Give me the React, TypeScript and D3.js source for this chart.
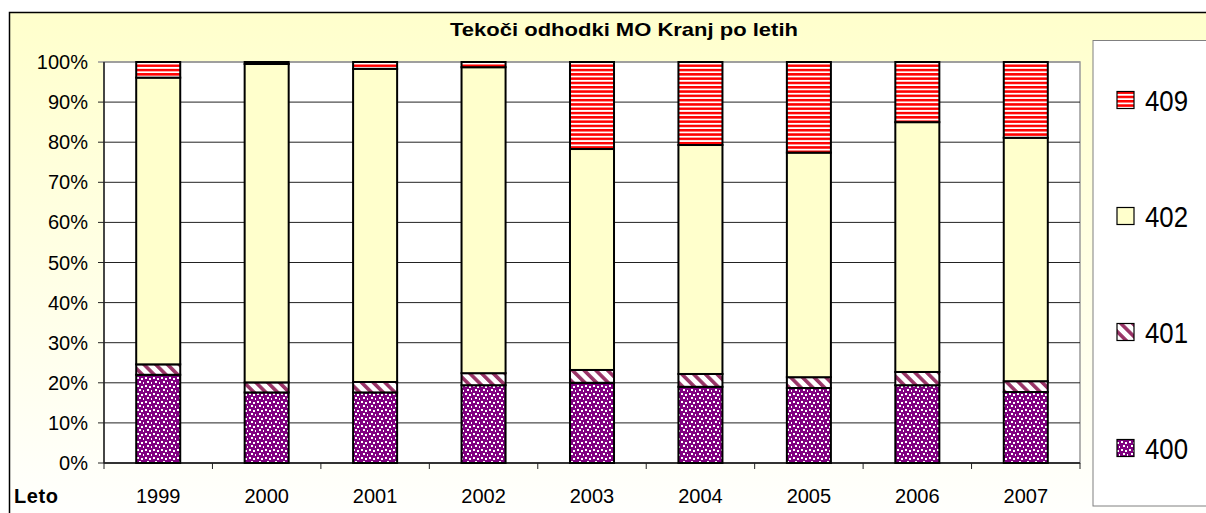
import React from "react";
import * as d3 from "d3";

// data (shares in %)
const years = ["1999", "2000", "2001", "2002", "2003", "2004", "2005", "2006", "2007"];
const keys = ["400", "401", "402", "409"];
const s400 = [22.0, 17.6, 17.6, 19.4, 20.0, 19.0, 18.7, 19.4, 17.7];
const s401 = [2.6, 2.5, 2.6, 3.0, 3.2, 3.2, 2.7, 3.3, 2.7];
const s402 = [71.5, 79.4, 78.1, 76.3, 55.1, 57.1, 56.0, 62.3, 60.7];
const s409 = [3.9, 0.5, 1.7, 1.3, 21.7, 20.7, 22.6, 15.0, 18.9];
const yTicks = [0, 0.1, 0.2, 0.3, 0.4, 0.5, 0.6, 0.7, 0.8, 0.9, 1];

const W = 1206;
const H = 513;
const PLOT = { left: 104, right: 1080, top: 62, bottom: 463 };
const FONT = "'Liberation Sans', Arial, sans-serif";

const fills: Record<string, string> = {
  "400": "url(#p400)",
  "401": "url(#p401)",
  "402": "#FFFFCC",
  "409": "url(#p409)",
};

export default function App() {
  const table = years.map((y, i) => ({
    year: y,
    "400": s400[i],
    "401": s401[i],
    "402": s402[i],
    "409": s409[i],
  }));
  const series = d3.stack<any>().keys(keys).offset(d3.stackOffsetExpand)(table);

  const pad = 0.594;
  const x = d3.scaleBand()
    .domain(years)
    .range([PLOT.left, PLOT.right])
    .paddingInner(pad)
    .paddingOuter(pad / 2);
  const y = d3.scaleLinear().domain([0, 1]).range([PLOT.bottom, PLOT.top]);

  const step = x.step();
  const bounds = d3.range(years.length + 1).map(i => PLOT.left + i * step);

  // legend, top to bottom
  const legendKeys = ["409", "402", "401", "400"];
  const legendY = d3.scalePoint().domain(legendKeys).range([100, 448]);

  return (
    <svg width={W} height={H} style={{ position: "absolute", left: 0, top: 0 }} fontFamily={FONT}>
      <defs>
        <linearGradient id="bg" x1="0" y1="0" x2="0" y2="1">
          <stop offset="0" stopColor="#FFFFCC" />
          <stop offset="1" stopColor="#FFFFFF" />
        </linearGradient>
        <pattern id="p400" patternUnits="userSpaceOnUse" width="8" height="8">
          <rect width="8" height="8" fill="#800080" />
          <rect x="1" y="1" width="2" height="2" fill="#fff" />
          <rect x="5" y="2" width="2" height="2" fill="#fff" />
          <rect x="3" y="5" width="2" height="2" fill="#fff" />
          <rect x="7" y="6" width="1.5" height="2" fill="#fff" />
        </pattern>
        <pattern id="p401" patternUnits="userSpaceOnUse" width="8.3" height="8.3" patternTransform="rotate(-45)">
          <rect width="8.3" height="8.3" fill="#fff" />
          <rect width="3.6" height="8.3" fill="#993366" />
        </pattern>
        <pattern id="p409" patternUnits="userSpaceOnUse" width="8" height="4.3">
          <rect width="8" height="4.3" fill="#fff" />
          <rect width="8" height="2.5" fill="#FF0000" />
        </pattern>
      </defs>

      {/* chart area */}
      <rect x={9.5} y={12.5} width={W + 10} height={H + 10} fill="url(#bg)" stroke="#000" strokeWidth={1.5} />

      <text x={624} y={36} textAnchor="middle" fontSize={19} fontWeight="bold" textLength={348} lengthAdjust="spacingAndGlyphs">
        Tekoči odhodki MO Kranj po letih
      </text>

      {/* plot area */}
      <rect x={PLOT.left} y={PLOT.top} width={PLOT.right - PLOT.left} height={PLOT.bottom - PLOT.top} fill="#fff" stroke="#999" strokeWidth={1.5} />

      {yTicks.map(t => (
        <g key={t}>
          <line x1={PLOT.left - 6} x2={PLOT.right} y1={y(t)} y2={y(t)} stroke={t === 1 ? "#999" : "#222"} strokeWidth={t === 1 ? 1.5 : 1} />
          <text x={88} y={y(t)} textAnchor="end" dominantBaseline="central" fontSize={20}>
            {Math.round(t * 100)}%
          </text>
        </g>
      ))}
      <line x1={PLOT.left} x2={PLOT.left} y1={PLOT.top} y2={PLOT.bottom} stroke="#222" strokeWidth={1.5} />
      <line x1={PLOT.left} x2={PLOT.right} y1={PLOT.bottom} y2={PLOT.bottom} stroke="#222" strokeWidth={1.5} />
      {bounds.map((b, i) => (
        <line key={i} x1={b} x2={b} y1={PLOT.bottom} y2={PLOT.bottom + 6} stroke="#222" strokeWidth={1} />
      ))}

      {/* bars */}
      {series.map(s => (
        <g key={s.key}>
          {s.map((d, i) => (
            <rect
              key={i}
              x={x(years[i])}
              y={y(d[1])}
              width={x.bandwidth()}
              height={y(d[0]) - y(d[1])}
              fill={fills[s.key]}
              stroke="#000"
              strokeWidth={2}
            />
          ))}
        </g>
      ))}

      {years.map(yr => (
        <text key={yr} x={(x(yr) as number) + x.bandwidth() / 2} y={503} textAnchor="middle" fontSize={20}>
          {yr}
        </text>
      ))}
      <text x={14} y={503} fontSize={20} fontWeight="bold" textLength={44} lengthAdjust="spacing">
        Leto
      </text>

      {/* legend */}
      <rect x={1093} y={40.5} width={140} height={465.5} fill="#fff" stroke="#808080" strokeWidth={1} />
      {legendKeys.map(k => (
        <g key={k} transform={`translate(0,${legendY(k)})`}>
          <rect x={1117} y={-8.5} width={17} height={17} fill={fills[k]} stroke="#000" strokeWidth={1.2} />
          <text x={1145} y={0} dominantBaseline="central" fontSize={30} textLength={43} lengthAdjust="spacingAndGlyphs">
            {k}
          </text>
        </g>
      ))}
    </svg>
  );
}
